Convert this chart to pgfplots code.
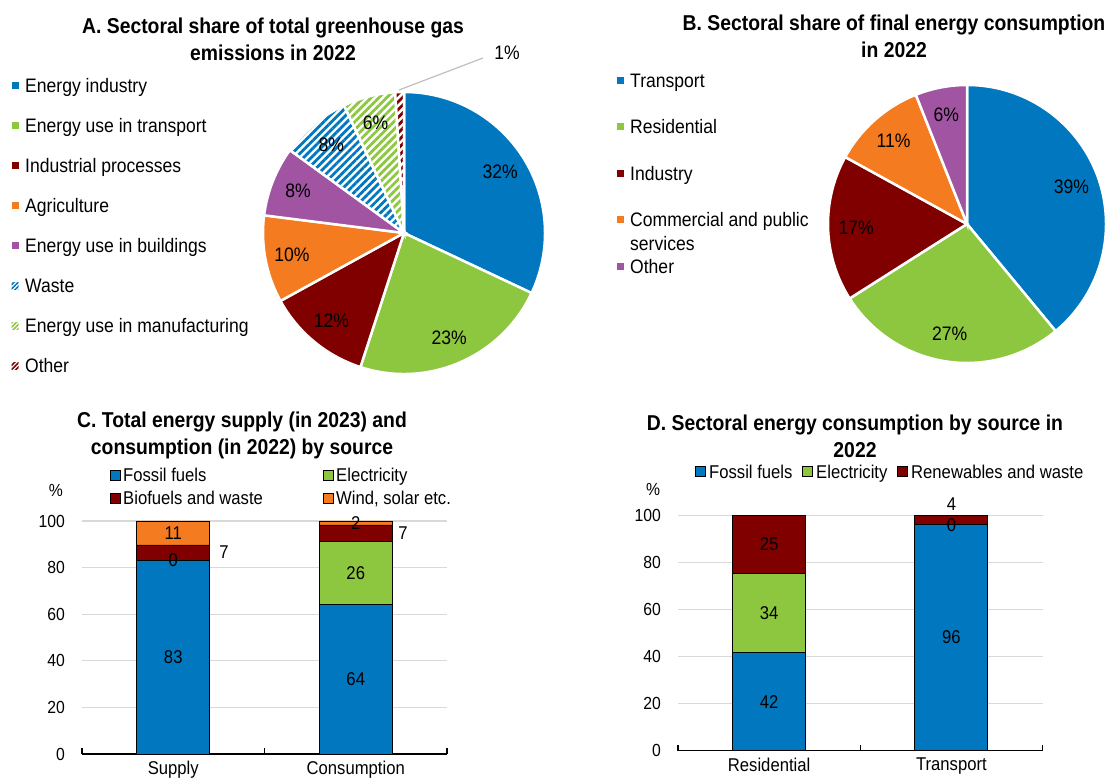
\documentclass[border=0pt]{standalone}
\usepackage{pgfplots}
\pgfplotsset{compat=1.18}
\usepackage{pgfplotstable}
\usepackage{fontspec}
\setmainfont{Liberation Sans}[FakeStretch=0.9]
\usetikzlibrary{patterns.meta}

\definecolor{oblue}{RGB}{0,119,191}
\definecolor{ogreen}{RGB}{141,198,63}
\definecolor{ored}{RGB}{128,0,0}
\definecolor{oorange}{RGB}{244,123,32}
\definecolor{opurple}{RGB}{161,84,161}
\definecolor{ogrid}{RGB}{217,217,217}
\definecolor{olead}{RGB}{191,191,191}

\newcommand\legf{\fontsize{19.5bp}{22bp}\selectfont}
\newcommand\labf{\fontsize{18.5bp}{21bp}\selectfont}
\newcommand\pief{\fontsize{19.5bp}{22bp}\selectfont}
\newcommand\tickf{\fontsize{17.5bp}{20bp}\selectfont}
\newcommand\titf{\fontsize{21.5bp}{24bp}\selectfont\bfseries}

% pie shares, clockwise from 12 o'clock
\pgfplotstableread{
share
32
23
12
10
8
8
6
1
}\pieA
\pgfplotstableread{
share
39
27
17
11
6
}\pieB

\tikzset{
  hatch/.style={pattern={Lines[angle=45,distance=5.5bp,line width=2.8bp]},pattern color=#1},
  hatchs/.style={pattern={Lines[angle=45,distance=3bp,line width=1.6bp]},pattern color=#1},
  pieA0/.style={fill=oblue}, pieA1/.style={fill=ogreen}, pieA2/.style={fill=ored},
  pieA3/.style={fill=oorange}, pieA4/.style={fill=opurple},
  pieA5/.style={hatch=oblue}, pieA6/.style={hatch=ogreen}, pieA7/.style={hatch=ored},
  legA5/.style={hatchs=oblue}, legA6/.style={hatchs=ogreen}, legA7/.style={hatchs=ored},
  pieB0/.style={fill=oblue}, pieB1/.style={fill=ogreen}, pieB2/.style={fill=ored},
  pieB3/.style={fill=oorange}, pieB4/.style={fill=opurple},
  bar/.style={fill=#1, draw=black, line width=0.8bp},
  legtxt/.style={font=\legf, anchor=base west, inner sep=0pt},
  labtxt/.style={font=\labf, anchor=base west, inner sep=0pt},
}

% #1 table, #2 style prefix, #3 radius, #4 label radius
\newcommand\drawpie[4]{%
  \pgfplotstablegetrowsof{#1}%
  \pgfmathtruncatemacro\pien{\pgfplotsretval-1}%
  \def\piecum{90}%
  \pgfplotsforeachungrouped \i in {0,...,\pien}{%
    \pgfplotstablegetelem{\i}{share}\of#1%
    \let\pieval\pgfplotsretval
    \pgfmathsetmacro\pieend{\piecum-3.6*\pieval}%
    \pgfmathsetmacro\piemid{(\piecum+\pieend)/2}%
    \path[#2\i, draw=white, line width=2.5bp] (axis cs:0,0) -- ++(\piecum:#3)
      arc[start angle=\piecum, end angle=\pieend, radius=#3] -- cycle;
    \ifdim\pieval pt>1.5pt
      \path (axis cs:0,0) ++(\piemid:#4) node[font=\pief, inner sep=0pt] {\pieval\%};
    \fi
    \global\let\piecum\pieend
  }%
}

\pgfplotsset{
  barpanel/.style={
    scale only axis, anchor=south west,
    ybar stacked, bar width=73bp,
    xmin=-0.5, xmax=1.5, ymin=0, ymax=100,
    xtick={0,1}, minor xtick={-0.5,0.5,1.5},
    ytick={0,20,...,100},
    axis x line*=bottom, axis y line*=left,
    axis line style={-},
    y axis line style={draw=none},
    x axis line style={line width=1.2bp, black},
    ymajorgrids, grid style={ogrid, line width=1.2bp},
    major tick length=0pt, minor tick length=6bp, tick align=inside,
    every tick/.style={black, line width=1.2bp},
    /pgf/number format/assume math mode=true,
    tick label style={font=\tickf},
    yticklabel style={inner sep=0pt, xshift=-17bp},
    xticklabel style={font=\labf, anchor=north, inner sep=0pt, yshift=-7bp},
  },
  labpanel/.style={
    scale only axis, anchor=south west, hide axis, clip=false,
    xmin=-0.5, xmax=1.5, ymin=0, ymax=100,
  },
  barlabels/.style={
    only marks, mark=*, mark size=0pt, mark options={draw=none, fill=none},
    nodes near coords, point meta=explicit symbolic,
    every node near coord/.append style={anchor=center, font=\labf, inner sep=0pt, text=black},
  },
}

\begin{document}
\begin{tikzpicture}
\useasboundingbox (0,0) rectangle (1116bp,780bp);

% ---------------- A ----------------
\node[font=\titf] at (273bp,752bp) {A. Sectoral share of total greenhouse gas};
\node[font=\titf] at (273bp,727bp) {emissions in 2022};
\begin{axis}[at={(404bp,547bp)}, anchor=center, scale only axis, width=282bp, height=282bp,
  hide axis, clip=false, xmin=-1, xmax=1, ymin=-1, ymax=1]
\pgfplotsextra{\drawpie{\pieA}{pieA}{141bp}{114bp}}
\draw[olead, line width=1.2bp] (axis cs:0,0) ++(-5bp,143bp) -- ++(84bp,32bp);
\path (axis cs:0,0) ++(103bp,180bp) node[font=\pief, inner sep=0pt] {1\%};
\end{axis}
\foreach \y/\s/\t in {694/pieA0/Energy industry, 654/pieA1/Energy use in transport,
  614/pieA2/Industrial processes, 574/pieA3/Agriculture,
  534/pieA4/Energy use in buildings, 494/legA5/Waste,
  454/legA6/Energy use in manufacturing, 414/legA7/Other}{
  \path[\s] (11.5bp,\y bp-3.5bp) rectangle (18.5bp,\y bp+3.5bp);
  \node[legtxt] at (25bp,\y bp-7bp) {\t};
}

% ---------------- B ----------------
\node[font=\titf] at (894bp,755bp) {B. Sectoral share of final energy consumption};
\node[font=\titf] at (894bp,730bp) {in 2022};
\begin{axis}[at={(967bp,556bp)}, anchor=center, scale only axis, width=278bp, height=278bp,
  hide axis, clip=false, xmin=-1, xmax=1, ymin=-1, ymax=1]
\pgfplotsextra{\drawpie{\pieB}{pieB}{139bp}{111bp}}
\end{axis}
\foreach \y/\c/\t in {699/oblue/Transport, 653/ogreen/Residential, 606/ored/Industry,
  560/oorange/Commercial and public, 513/opurple/Other}{
  \fill[\c] (616.5bp,\y bp-3.5bp) rectangle (623.5bp,\y bp+3.5bp);
  \node[legtxt] at (630bp,\y bp-7bp) {\t};
}
\node[legtxt] at (630bp,529bp) {services};

% ---------------- C ----------------
\node[font=\titf] at (242bp,358bp) {C. Total energy supply (in 2023) and};
\node[font=\titf] at (242bp,331bp) {consumption (in 2022) by source};
\foreach \x/\y/\c/\t in {110/305/oblue/Fossil fuels, 323/305/ogreen/Electricity,
  110/282/ored/Biofuels and waste, 323/282/oorange/{Wind, solar etc.}}{
  \path[bar=\c] (\x bp,\y bp-5bp) rectangle (\x bp+10bp,\y bp+5bp);
  \node[labtxt] at (\x bp+13bp,\y bp-6.6bp) {\t};
}
\node[font=\tickf] at (56bp,290bp) {\%};
\begin{axis}[barpanel, at={(82bp,26bp)}, width=365bp, height=233bp,
  xticklabels={Supply,Consumption}]
\addplot[bar=oblue]   coordinates {(0,83) (1,64.2)};
\addplot[bar=ogreen]  coordinates {(0,0) (1,26.9)};
\addplot[bar=ored]    coordinates {(0,6.7) (1,7.2)};
\addplot[bar=oorange] coordinates {(0,10.3) (1,1.7)};
\end{axis}
\begin{axis}[labpanel, at={(82bp,26bp)}, width=365bp, height=233bp]
\addplot[barlabels] coordinates {(0,41.5)[83] (0,83)[0] (0.278,86.5)[7] (0,94.9)[11]
  (1,32.1)[64] (1,77.6)[26] (1.259,94.7)[7] (1,99.1)[2]};
\end{axis}

% ---------------- D ----------------
\node[font=\titf] at (855bp,355bp) {D. Sectoral energy consumption by source in};
\node[font=\titf] at (855bp,330bp) {2022};
\foreach \x/\c/\t in {695/oblue/Fossil fuels, 802/ogreen/Electricity, 897/ored/Renewables and waste}{
  \path[bar=\c] (\x bp,303.3bp) rectangle (\x bp+10bp,313.3bp);
  \node[labtxt] at (\x bp+14bp,301.7bp) {\t};
}
\node[font=\tickf] at (653bp,291bp) {\%};
\begin{axis}[barpanel, at={(678bp,29.3bp)}, width=364.5bp, height=235.4bp,
  xticklabels={Residential,Transport}]
\addplot[bar=oblue]  coordinates {(0,41.6) (1,96.3)};
\addplot[bar=ogreen] coordinates {(0,33.7) (1,0)};
\addplot[bar=ored]   coordinates {(0,24.7) (1,3.7)};
\end{axis}
\begin{axis}[labpanel, at={(678bp,29.3bp)}, width=364.5bp, height=235.4bp]
\addplot[barlabels] coordinates {(0,20.8)[42] (0,58.5)[34] (0,87.6)[25]
  (1,48.1)[96] (1,96)[0] (1,104.6)[4]};
\end{axis}
\end{tikzpicture}
\end{document}
